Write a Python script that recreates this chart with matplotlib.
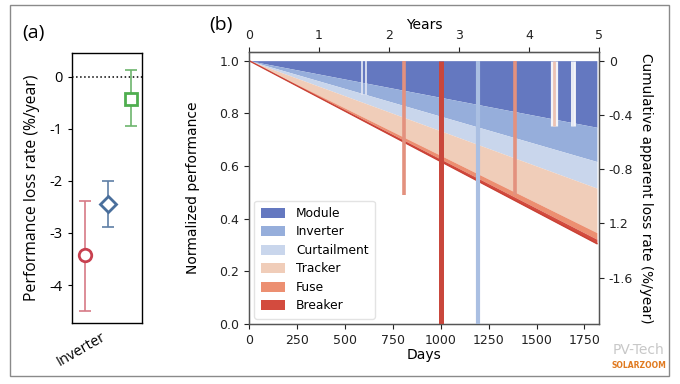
import matplotlib
matplotlib.use("Agg")
import matplotlib.pyplot as plt
from matplotlib.patches import Patch, Rectangle
import numpy as np

plt.rcParams['axes.unicode_minus'] = False

# ---------------- Data ----------------
# Panel (a): performance loss rate estimates (%/year)
a_x = [-1, 0, 1]
a_vals = [-3.43, -2.45, -0.42]
a_low = [-4.50, -2.88, -0.95]
a_high = [-2.38, -2.00, 0.13]
a_markers = ['o', 'D', 's']
a_colors = ['#c8404f', '#4a6f9c', '#4fae4f']
a_err_colors = ['#d77a86', '#5f7fa6', '#6db56d']
a_category = ['Inverter']

# Panel (b): stacked normalized performance
categories = ['Module', 'Inverter', 'Curtailment', 'Tracker', 'Fuse', 'Breaker']
cat_colors = ['#6478c0', '#96aedb', '#c9d6ec', '#f0cdb9', '#ec8f71', '#d34b3e']
days = [0, 1815]
# cumulative loss contributed by each category at the start / end day
loss_start = [0.0, 0.0, 0.0, 0.0, 0.0, 0.0]
loss_end = [0.253, 0.130, 0.101, 0.169, 0.025, 0.017]

# downtime events (day, lowest value reached, category)
event_days = [590, 612, 808, 1000, 1195, 1390, 1592, 1692]
event_bottoms = [0.87, 0.87, 0.49, 0.0, 0.0, 0.49, 0.75, 0.75]
event_types = ['Curtailment', 'Curtailment', 'Fuse', 'Breaker', 'Inverter', 'Fuse',
               'Tracker', 'Curtailment']

year_ticks = [0, 1, 2, 3, 4, 5]
day_ticks = [0, 250, 500, 750, 1000, 1250, 1500, 1750]
perf_ticks = [0.0, 0.2, 0.4, 0.6, 0.8, 1.0]
right_ticks = [0, -0.4, -0.8, -1.2, -1.6]
right_labels = ['0', '-0.4', '-0.8', '1.2', '-1.6']

# ---------------- Figure ----------------
fig = plt.figure(figsize=(6.8, 3.84), dpi=100)
W, H = 680, 384

def box(l, t, r, b):
    return [l / W, 1 - b / H, (r - l) / W, (b - t) / H]

# outer frame
fig.patches.append(Rectangle((10 / W, 1 - 376 / H), 659 / W, 371 / H,
                             transform=fig.transFigure, fill=False,
                             edgecolor='#8a8a8a', linewidth=1.0))

fa = 'Open Sans'

# ---- Panel (a) ----
axa = fig.add_axes(box(72, 53, 142, 323))
for xi, v, lo, hi, m, c, ec in zip(a_x, a_vals, a_low, a_high, a_markers, a_colors, a_err_colors):
    axa.errorbar([xi], [v], yerr=[[v - lo], [hi - v]], fmt='none', ecolor=ec,
                 elinewidth=1.2, capsize=4, capthick=1.2, zorder=2)
    ms = 9 if m != 'D' else 8
    axa.plot([xi], [v], marker=m, ms=ms, mfc='white', mec=c, mew=2, zorder=3)
axa.axhline(0, color='black', linestyle=':', linewidth=1.1, zorder=1)
axa.set_xlim(-1.565, 1.478)
axa.set_ylim(-4.73, 0.46)
axa.set_yticks([0, -1, -2, -3, -4])
axa.set_yticklabels(['0', '-1', '-2', '-3', '-4'], fontfamily=fa, fontsize=10.5)
axa.set_xticks([0])
axa.set_xticklabels(a_category, rotation=30, ha='right', fontfamily=fa, fontsize=10.5)
axa.tick_params(axis='x', length=0, pad=5)
axa.tick_params(axis='y', length=3, width=0.8)
axa.set_ylabel('Performance loss rate (%/year)', fontfamily=fa, fontsize=11.3, labelpad=7)
for s in axa.spines.values():
    s.set_linewidth(1.0)
fig.text(22 / W, 1 - 33 / H, '(a)', fontfamily=fa, fontsize=14, va='center', ha='left')

# ---- Panel (b) ----
axb = fig.add_axes(box(249, 51.7, 599, 324))
top = np.array([1.0, 1.0])
for name, c, ls, le in zip(categories, cat_colors, loss_start, loss_end):
    bottom = top - np.array([ls, le])
    axb.fill_between(days, bottom, top, color=c, linewidth=0, zorder=1)
    top = bottom
axb.plot(days, top, color='#c94236', linewidth=1.0, zorder=2)

ev_style = {'Curtailment': ('#dde3f2', 1.3), 'Fuse': ('#e3917e', 2.6),
            'Breaker': ('#c9473c', 3.6), 'Inverter': ('#aabfe2', 3.0),
            'Tracker': ('#ecc2b4', 3.0)}
for d, b, t in zip(event_days, event_bottoms, event_types):
    c, lw = ev_style[t]
    if t == 'Tracker' or (t == 'Curtailment' and d > 1600):
        axb.vlines(d, b, 1.0, color='#f4f4f8', linewidth=lw + 2.2, zorder=3)
        axb.vlines(d, b, 1.0, color=c if t == 'Tracker' else '#b7c8ea', linewidth=lw - 1.0, zorder=4)
    else:
        axb.vlines(d, b, 1.0, color=c, linewidth=lw, zorder=3)

axb.set_xlim(0, 1826)
axb.set_ylim(0, 1.034)
axb.set_xticks(day_ticks)
axb.set_yticks(perf_ticks)
axb.set_yticklabels([f'{v:.1f}' for v in perf_ticks])
axb.tick_params(labelsize=9, length=3.5, width=0.8, colors='#222222')
axb.set_xlabel('Days', fontsize=10, labelpad=1)
axb.set_ylabel('Normalized performance', fontsize=10, labelpad=14)
for s in axb.spines.values():
    s.set_color('#555555')
    s.set_linewidth(1.0)

sec = axb.secondary_xaxis('top', functions=(lambda d: d / 365.2, lambda y: y * 365.2))
sec.set_xticks(year_ticks)
sec.tick_params(labelsize=9, length=3.5, width=0.8, colors='#222222')
sec.set_xlabel('Years', fontsize=10, labelpad=0)
sec.spines['top'].set_color('#555555')

k = 1.6 / 0.824
axr = axb.twinx()
axr.set_ylim((0 - 1) * k, (1.034 - 1) * k)
axr.set_yticks(right_ticks)
axr.set_yticklabels(right_labels)
axr.tick_params(labelsize=9, length=3.5, width=0.8, colors='#222222')
axr.set_ylabel('Cumulative apparent loss rate (%/year)', fontsize=9.8, rotation=-90,
               labelpad=14)
for s in axr.spines.values():
    s.set_color('#555555')

handles = [Patch(facecolor=c, edgecolor='none', label=n) for n, c in zip(categories, cat_colors)]
leg = axb.legend(handles=handles, loc='lower left', bbox_to_anchor=(0.0, 0.0),
                 borderaxespad=0.45,
                 fontsize=8.8, frameon=True, handlelength=2.0, handleheight=0.9,
                 labelspacing=0.45, borderpad=0.5, handletextpad=0.9)
leg.get_frame().set_edgecolor('#dddddd')
leg.set_zorder(10)

fig.text(209 / W, 1 - 25 / H, '(b)', fontfamily=fa, fontsize=14, va='center', ha='left')

# watermark
fig.text(613 / W, 1 - 350 / H, 'PV-Tech', fontsize=10, color='#c8c8c8', va='center', ha='left')
fig.text(612 / W, 1 - 366 / H, 'SOLARZOOM', fontsize=5.5, color='#e07a20', va='center',
         ha='left', fontweight='bold')

fig.savefig('out.png', dpi=100)
